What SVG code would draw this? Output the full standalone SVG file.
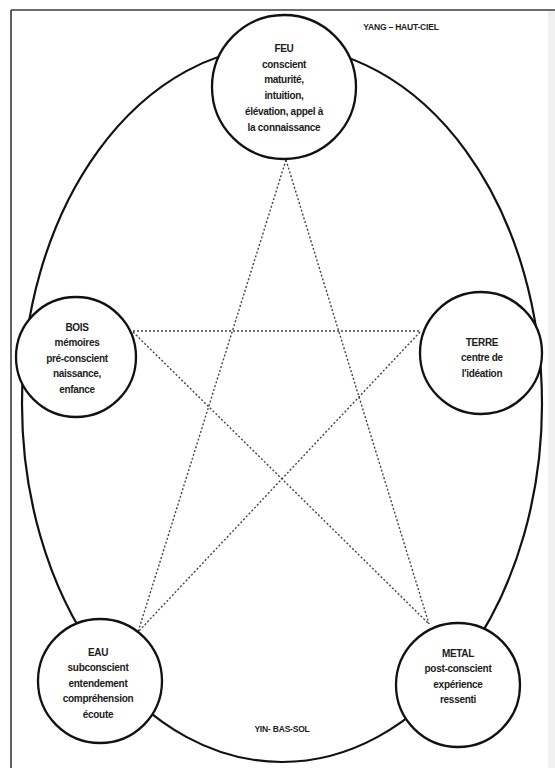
<svg xmlns="http://www.w3.org/2000/svg" width="555" height="768" viewBox="0 0 555 768">
<style>
.frame{stroke:#3a3a3a;stroke-width:1.6;fill:none}
.orbit{stroke:#111;stroke-width:2.2;fill:none}
.node{stroke:#111;stroke-width:2.3;fill:#fff}
.star{stroke:#444;stroke-width:1.4;stroke-dasharray:2 2;fill:none}
text{font-family:"Liberation Sans",Arial,sans-serif;font-weight:bold;font-size:10px;fill:#1c1c1c;text-anchor:middle;letter-spacing:-0.3px}
.small{font-size:8.5px;letter-spacing:-0.2px}
</style>
<rect x="0" y="0" width="555" height="768" fill="#fff"/>
<rect x="548" y="11" width="7" height="757" fill="#f0f0f0"/>
<g id="frame">
<line class="frame" x1="11" y1="10" x2="555" y2="10"/>
<line class="frame" x1="11" y1="10" x2="11" y2="768"/>
</g>
<g id="orbit">
<ellipse class="orbit" cx="282" cy="404" rx="260" ry="358"/>
</g>
<g id="connectors">
<line class="star" x1="286" y1="160" x2="138" y2="632"/>
<line class="star" x1="286" y1="160" x2="429" y2="624"/>
<line class="star" x1="133" y1="331" x2="420" y2="331"/>
<line class="star" x1="133" y1="332" x2="429" y2="624"/>
<line class="star" x1="420" y1="332" x2="138" y2="632"/>
</g>
<g id="feu">
<circle class="node" cx="284" cy="87" r="72"/>
<text x="284" y="52">FEU</text>
<text x="284" y="67.7">conscient</text>
<text x="284" y="83.4">maturité,</text>
<text x="284" y="99.1">intuition,</text>
<text x="284" y="114.8">élévation, appel à</text>
<text x="284" y="130.5">la connaissance</text>
</g>
<g id="bois">
<circle class="node" cx="76" cy="357" r="60"/>
<text x="77" y="330.5">BOIS</text>
<text x="77" y="346">mémoires</text>
<text x="77" y="361.5">pré-conscient</text>
<text x="77" y="377">naissance,</text>
<text x="77" y="392.5">enfance</text>
</g>
<g id="terre">
<circle class="node" cx="481" cy="353" r="61"/>
<text x="482" y="345.5">TERRE</text>
<text x="482" y="361">centre de</text>
<text x="482" y="376.5">l'idéation</text>
</g>
<g id="eau">
<circle class="node" cx="100" cy="681" r="62"/>
<text x="98" y="655.5">EAU</text>
<text x="98" y="671">subconscient</text>
<text x="98" y="686.5">entendement</text>
<text x="98" y="702">compréhension</text>
<text x="98" y="717.5">écoute</text>
</g>
<g id="metal">
<circle class="node" cx="458" cy="685" r="62"/>
<text x="458" y="656.5">METAL</text>
<text x="458" y="672">post-conscient</text>
<text x="458" y="687.5">expérience</text>
<text x="458" y="703">ressenti</text>
</g>
<g id="labels">
<text class="small" x="401" y="30">YANG – HAUT-CIEL</text>
<text class="small" x="282" y="732">YIN- BAS-SOL</text>
</g>
</svg>
